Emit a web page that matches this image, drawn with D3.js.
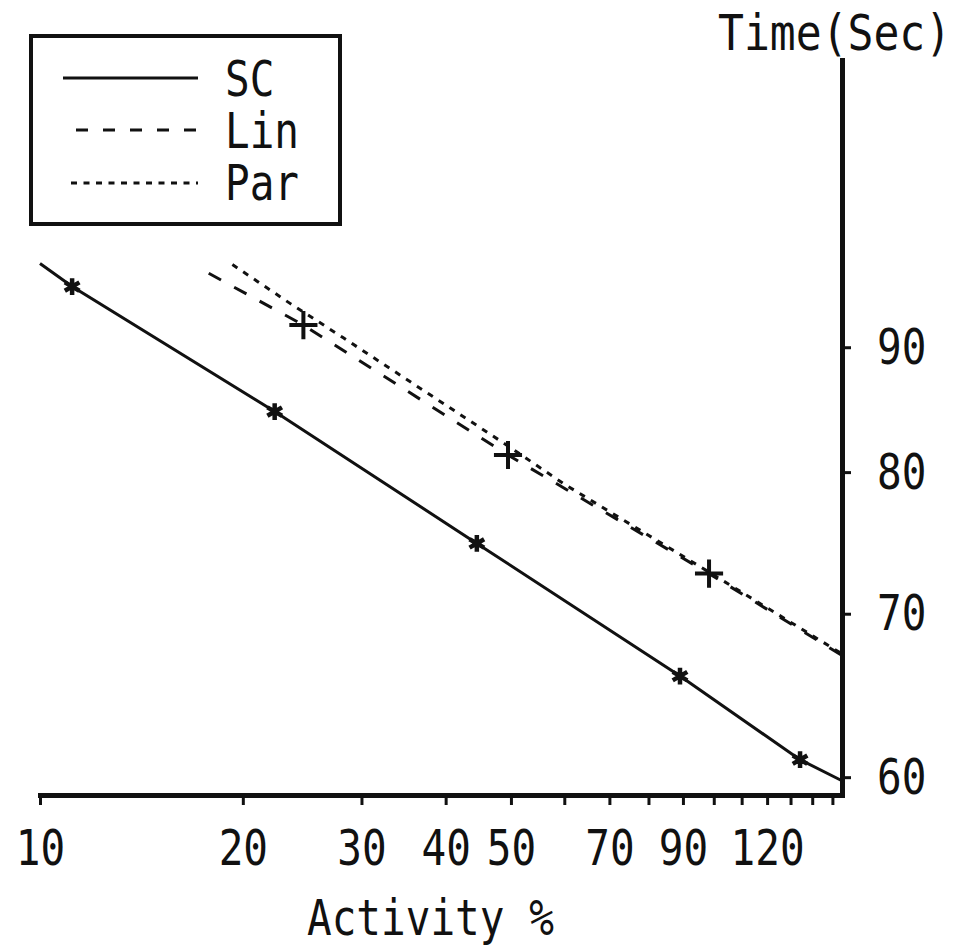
<!doctype html>
<html lang="en">
  <head>
    <meta charset="utf-8">
    <title>Time vs Activity</title>
    <style>
      body { margin: 0; background: #fff; }
      text { font-family: "DejaVu Sans Mono", monospace; font-size: 50px; fill: #111; }
    </style>
  </head>
  <body>
    <script src="https://d3js.org/d3.v7.min.js"></script>
    <script>
      // values: [activity %, time (sec)]
      var scLine  = [[10, 97.4], [11.16, 95.3], [22.3, 84.7], [44.5, 74.8], [89.1, 66.0], [134.3, 61.0], [155, 59.8]];
      var scMarks = [[11.16, 95.3], [22.3, 84.7], [44.5, 74.8], [89.1, 66.0], [134.3, 61.0]];
      var linLine  = [[17.8, 96.5], [24.6, 91.9], [49.5, 81.3], [98.4, 72.7], [155, 67.3]];
      var linMarks = [[24.6, 91.9], [49.5, 81.3], [98.4, 72.7]];
      var parLine = [[19.3, 97.3], [23.5, 93.8], [28.2, 90.8], [44.5, 83.6], [49.5, 82.0], [60, 79.1], [98.4, 72.8], [155, 67.4]];

      var seriesNames = ['SC', 'Lin', 'Par'];
      var xTicks = [10, 20, 30, 40, 50, 60, 70, 80, 90, 100, 110, 120, 130, 140, 150];
      var xLabels = [10, 20, 30, 40, 50, 70, 90, 120];
      var yTicks = [60, 70, 80, 90];

      var W = 962, H = 948;
      var sx = 0.82; // narrow plotter lettering

      var x = d3.scaleLog().domain([10, 155]).range([40, 842]);
      var y = d3.scaleLog().domain([59, 118]).range([795, 60]);

      var svg = d3.select('body').append('svg')
          .attr('width', W)
          .attr('height', H);

      svg.append('rect').attr('width', W).attr('height', H).attr('fill', '#fff');

      var line = d3.line()
          .x(function(d) { return x(d[0]); })
          .y(function(d) { return y(d[1]); });

      var dashes = { SC: null, Lin: '14,15', Par: '6,7' };

      svg.append('path').datum(scLine)
          .attr('d', line).attr('fill', 'none')
          .attr('stroke', '#111').attr('stroke-width', 3);
      svg.append('path').datum(linLine)
          .attr('d', line).attr('fill', 'none')
          .attr('stroke', '#111').attr('stroke-width', 3)
          .attr('stroke-dasharray', dashes.Lin);
      svg.append('path').datum(parLine)
          .attr('d', line).attr('fill', 'none')
          .attr('stroke', '#111').attr('stroke-width', 3)
          .attr('stroke-dasharray', dashes.Par);

      // markers
      svg.selectAll('.star')
        .data(scMarks)
        .enter().append('path')
          .attr('class', 'star')
          .attr('transform', function(d) { return 'translate(' + x(d[0]) + ',' + y(d[1]) + ')'; })
          .attr('d', d3.symbol().type(d3.symbolAsterisk).size(200))
          .attr('fill', 'none').attr('stroke', '#111').attr('stroke-width', 4.5);

      svg.selectAll('.plus')
        .data(linMarks)
        .enter().append('path')
          .attr('class', 'plus')
          .attr('transform', function(d) { return 'translate(' + x(d[0]) + ',' + y(d[1]) + ')'; })
          .attr('d', d3.symbol().type(d3.symbolPlus).size(260))
          .attr('fill', 'none').attr('stroke', '#111').attr('stroke-width', 4);

      // x axis
      var xAxis = svg.append('g')
          .attr('transform', 'translate(0,795)')
          .call(d3.axisBottom(x)
            .tickValues(xTicks)
            .tickSize(10)
            .tickSizeOuter(0)
            .tickFormat(function(d) { return xLabels.indexOf(d) >= 0 ? d : ''; }));
      xAxis.select('.domain').attr('stroke', '#111').attr('stroke-width', 5).attr('stroke-linecap', 'square');
      xAxis.selectAll('.tick line').attr('stroke', '#111').attr('stroke-width', 3);
      xAxis.selectAll('.tick text')
          .attr('y', 70).attr('dy', 0)
          .attr('transform', 'scale(' + sx + ',1)')
          .style('fill', '#111');
      xAxis.attr('font-family', null).attr('font-size', null);

      // y axis on the right
      var yAxis = svg.append('g')
          .attr('transform', 'translate(842,0)')
          .call(d3.axisRight(y)
            .tickValues(yTicks)
            .tickSize(9)
            .tickSizeOuter(0)
            .tickFormat(d3.format('d')));
      yAxis.select('.domain').attr('stroke', '#111').attr('stroke-width', 5).attr('stroke-linecap', 'square');
      yAxis.selectAll('.tick line').attr('stroke', '#111').attr('stroke-width', 3);
      yAxis.selectAll('.tick text')
          .attr('x', 35 / sx).attr('y', 16).attr('dy', 0)
          .attr('transform', 'scale(' + sx + ',1)')
          .style('fill', '#111');
      yAxis.attr('font-family', null).attr('font-size', null);

      // axis titles
      svg.append('text')
          .attr('transform', 'translate(718,50) scale(' + (sx * 1.05) + ',1)')
          .text('Time(Sec)');
      svg.append('text')
          .attr('transform', 'translate(307,935) scale(' + sx + ',1)')
          .text('Activity %');

      // legend
      var legend = svg.append('g');
      legend.append('rect')
          .attr('x', 31).attr('y', 36)
          .attr('width', 309).attr('height', 188)
          .attr('fill', 'none').attr('stroke', '#111').attr('stroke-width', 4);

      var legY = [78, 130, 183];
      var legX0 = [63, 76, 71];
      var legBase = [96, 148, 200];
      seriesNames.forEach(function(name, i) {
        legend.append('line')
            .attr('x1', legX0[i]).attr('x2', 198)
            .attr('y1', legY[i]).attr('y2', legY[i])
            .attr('stroke', '#111').attr('stroke-width', 3)
            .attr('stroke-dasharray', name === 'Lin' ? '12,15' : name === 'Par' ? '6,6.5' : null);
        legend.append('text')
            .attr('transform', 'translate(225,' + legBase[i] + ') scale(' + sx + ',1)')
            .text(name);
      });
    </script>
  </body>
</html>
